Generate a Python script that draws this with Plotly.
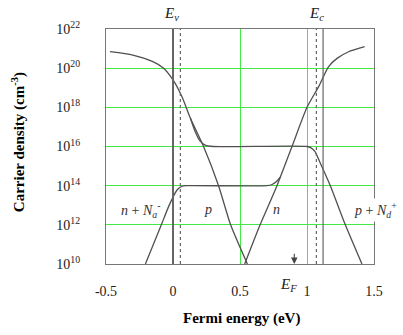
import plotly.graph_objects as go

# ---- data (energies in eV, densities as log10 of cm^-3) ----
E_p = [-0.47, -0.30, -0.15, -0.07, 0.0, 0.067, 0.13, 0.228, 0.34, 0.43, 0.555]
logp = [20.84, 20.67, 20.33, 20.0, 19.4, 18.54, 17.44, 16.0, 14.0, 12.0, 10.0]

E_n = [0.535, 0.65, 0.776, 0.888, 1.0, 1.087, 1.16, 1.224, 1.31, 1.43]
logn = [10.0, 12.0, 14.0, 16.0, 18.0, 19.06, 20.07, 20.5, 20.84, 21.1]

E_nNa = [-0.206, -0.087, -0.033, 0.03, 0.067, 0.10, 0.70, 0.74, 0.77, 0.80]
log_nNa = [10.0, 12.0, 12.93, 13.78, 13.97, 14.0, 14.0, 14.06, 14.2, 14.43]

E_pNd = [0.13, 0.166, 0.20, 0.24, 0.30, 1.0, 1.03, 1.06, 1.10, 1.174, 1.286, 1.41]
log_pNd = [17.44, 16.75, 16.3, 16.07, 16.0, 16.0, 15.93, 15.74, 15.14, 14.0, 12.0, 10.0]

Ev, Ec = 0.0, 1.12
Ev_dot, Ec_dot = 0.055, 1.07
EF, log_EF = 0.905, 16.0

x_ticks = [-0.5, 0, 0.5, 1, 1.5]
x_ticktext = ["-0.5", "0", "0.5", "1", "1.5"]
y_exps = [10, 12, 14, 16, 18, 20, 22]

LINE = "#505050"
GREEN = "#44e844"
SERIF = "Liberation Serif, Times New Roman, serif"

fig = go.Figure()
for xs, ls in [(E_p, logp), (E_n, logn), (E_nNa, log_nNa), (E_pNd, log_pNd)]:
    fig.add_trace(go.Scatter(x=xs, y=[10.0 ** v for v in ls], mode="lines",
                             line=dict(color=LINE, width=1.3, shape="spline", smoothing=0.6),
                             showlegend=False, hoverinfo="skip"))

shapes = [
    dict(type="line", xref="x", yref="paper", x0=Ev, x1=Ev, y0=0, y1=1, line=dict(color="#666", width=2)),
    dict(type="line", xref="x", yref="paper", x0=Ec, x1=Ec, y0=0, y1=1, line=dict(color="#666", width=1.2)),
    dict(type="line", xref="x", yref="paper", x0=Ev_dot, x1=Ev_dot, y0=0, y1=1, line=dict(color="#666", width=1.2, dash="dot")),
    dict(type="line", xref="x", yref="paper", x0=Ec_dot, x1=Ec_dot, y0=0, y1=1, line=dict(color="#666", width=1.2, dash="dot")),
    dict(type="line", xref="x", yref="y", x0=EF, x1=EF, y0=log_EF, y1=10.05, line=dict(color="#444", width=1.2, dash="dash")),
]
fig.update_layout(shapes=shapes)

ann = []
ann.append(dict(x=EF, y=10, xref="x", yref="y", ax=EF, ay=10.6, axref="x", ayref="y",
                showarrow=True, arrowhead=2, arrowsize=1.2, arrowwidth=1.1, arrowcolor="#444", text=""))
it = dict(family=SERIF, size=15, color="#222")
lab = dict(family=SERIF, size=14, color="#333")
C = dict(showarrow=False, xanchor="center", yanchor="middle")
ann += [
    dict(x=-0.012, y=1.0, xref="x", yref="paper", yanchor="bottom", xanchor="center", yshift=4, showarrow=False,
         text="<i>E</i><sub><i>v</i></sub>", font=it),
    dict(x=1.07, y=1.0, xref="x", yref="paper", yanchor="bottom", xanchor="center", yshift=4, showarrow=False,
         text="<i>E</i><sub><i>c</i></sub>", font=it),
    dict(x=0.86, y=-0.09, xref="x", yref="paper", text="<i>E</i><sub><i>F</i></sub>", font=it, **C),
    dict(x=-0.244, y=12.76, xref="x", yref="y", text="<i>n</i> + <i>N</i><sub><i>a</i></sub><sup>-</sup>", font=lab, **C),
    dict(x=0.263, y=12.76, xref="x", yref="y", text="<i>p</i>", font=lab, **C),
    dict(x=0.77, y=12.76, xref="x", yref="y", text="<i>n</i>", font=lab, **C),
    dict(x=1.007, y=12.76, xref="paper", yref="y", text="<i>p</i> + <i>N</i><sub><i>d</i></sub><sup>+</sup>", bgcolor="white", font=lab, **C),
    dict(x=0.507, y=-0.23, xref="paper", yref="paper", text="<b>Fermi energy (eV)</b>", font=dict(family=SERIF, size=15, color="black"), **C),
    dict(x=-0.328, y=0.519, xref="paper", yref="paper", text="<b>Carrier density (cm<sup>-3</sup>)</b>", textangle=-90, font=dict(family=SERIF, size=15, color="black"), **C),
]
fig.update_layout(annotations=ann)

fig.update_xaxes(range=[-0.5, 1.5], tickvals=x_ticks, ticktext=x_ticktext, showgrid=True, gridcolor=GREEN, gridwidth=1.4,
                 showline=True, mirror=True, linecolor="#777", linewidth=1.2, zeroline=False, ticks="",
                 automargin=False, ticklabelstandoff=14, tickfont=dict(family=SERIF, size=14, color="#222"))
fig.update_yaxes(type="log", range=[10, 22], tickvals=[10.0 ** e for e in y_exps],
                 ticktext=[f"10<sup>{e}</sup>" for e in y_exps], showgrid=True, gridcolor=GREEN, gridwidth=1.4,
                 showline=True, mirror=True, linecolor="#777", linewidth=1.2, zeroline=False, ticks="",
                 automargin=False, ticklabelstandoff=22, tickfont=dict(family=SERIF, size=14, color="#222"))
fig.update_layout(width=403, height=335, margin=dict(l=106, r=29, t=29, b=71, autoexpand=False),
                  plot_bgcolor="white", paper_bgcolor="white", font=dict(family=SERIF))
fig.write_html("out.html", config={"displayModeBar": False},
               post_script="document.body.style.margin='0';document.body.style.padding='0';")
